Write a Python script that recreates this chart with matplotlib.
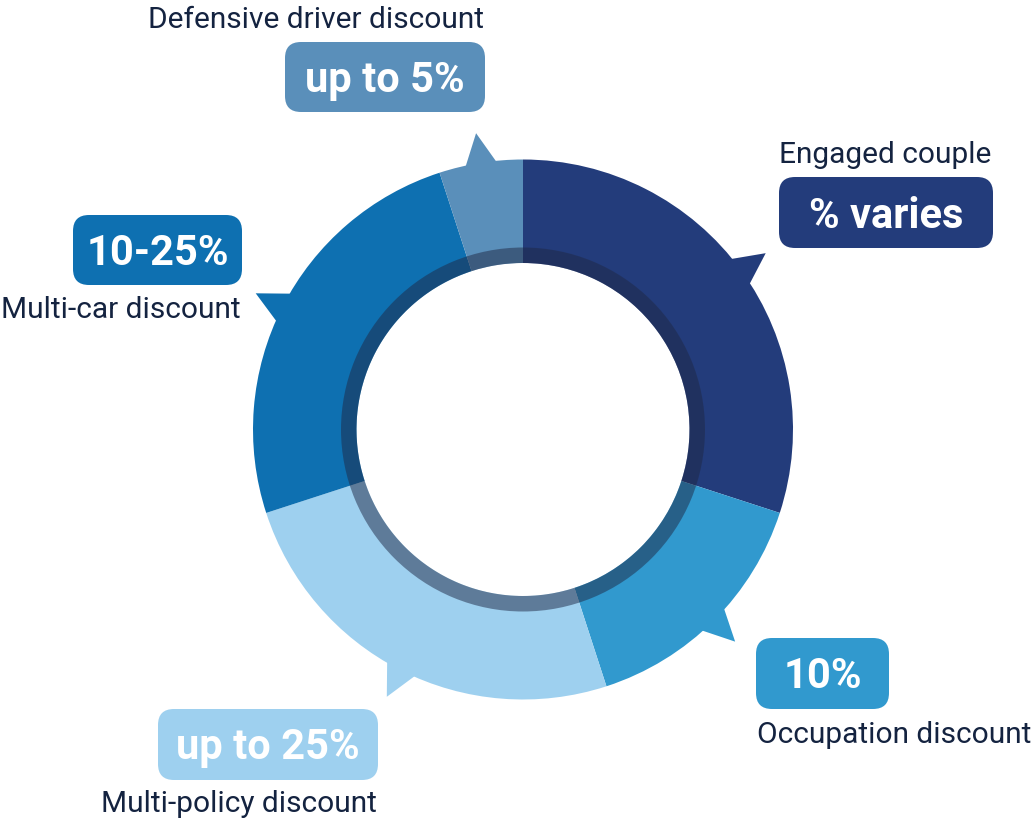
import matplotlib
matplotlib.use('Agg')
import matplotlib.pyplot as plt
import numpy as np
from matplotlib.patches import FancyBboxPatch, Polygon, Wedge

plt.rcParams['font.family'] = ['Roboto', 'DejaVu Sans']

# data (clockwise from 12 o'clock)
categories = ['Engaged couple', 'Occupation discount', 'Multi-policy discount',
              'Multi-car discount', 'Defensive driver discount']
shares = [30, 15, 25, 25, 5]
badges = ['% varies', '10%', 'up to 25%', '10-25%', 'up to 5%']
colors = ['#233c7b', '#3199ce', '#9ed0ef', '#0e70b1', '#5a8fba']

# callout layout in pixels from the top-left: box (x0, y0, x1, y1), label x, label baseline, align
layout = {
    'Engaged couple': ((779, 177, 993, 248), 779, 163, 'left'),
    'Occupation discount': ((756, 638, 889, 709), 757, 743, 'left'),
    'Multi-policy discount': ((158, 709, 378, 780), 377, 812, 'right'),
    'Multi-car discount': ((73, 215, 242, 285), 241, 318, 'right'),
    'Defensive driver discount': ((285, 42, 485, 112), 484, 28, 'right'),
}

W, H = 1033, 825
fig = plt.figure(figsize=(W / 100, H / 100), dpi=100)
ax = fig.add_axes([0, 0, 1, 1])

cx, cy = 523, H - 429.5
r_out, r_in, r_band = 270, 166.5, 182

wedges, _ = ax.pie(shares, colors=colors, startangle=90, counterclock=False,
                   center=(cx, cy), radius=r_out,
                   wedgeprops=dict(width=r_out - r_in, linewidth=0))

# darker band along the hole
ax.add_patch(Wedge((cx, cy), r_band, 0, 360, width=r_band - r_in,
                   facecolor='#1f2844', alpha=0.5, linewidth=0))

# little speech-bubble tails on each segment
half = np.deg2rad(3.7)
for w in wedges:
    mid = np.deg2rad((w.theta1 + w.theta2) / 2)
    pts = [(cx + 266 * np.cos(mid - half), cy + 266 * np.sin(mid - half)),
           (cx + 300 * np.cos(mid), cy + 300 * np.sin(mid)),
           (cx + 266 * np.cos(mid + half), cy + 266 * np.sin(mid + half))]
    ax.add_patch(Polygon(pts, closed=True, facecolor=w.get_facecolor(), linewidth=0))

# badges and labels
for name, badge, col in zip(categories, badges, colors):
    (x0, y0, x1, y1), lx, ly, ha = layout[name]
    ax.add_patch(FancyBboxPatch((x0, H - y1), x1 - x0, y1 - y0,
                                boxstyle='round,pad=0,rounding_size=16',
                                facecolor=col, linewidth=0))
    yc = (y0 + y1) / 2
    ax.text((x0 + x1) / 2, H - (yc + 15), badge, color='white', fontsize=30,
            fontweight='bold', ha='center', va='baseline')
    ax.text(lx, H - ly, name, color='#142340', fontsize=21.5, ha=ha, va='baseline')

ax.set_xlim(0, W)
ax.set_ylim(0, H)
ax.set_aspect('equal')
ax.axis('off')

fig.savefig('out.png', dpi=100)
